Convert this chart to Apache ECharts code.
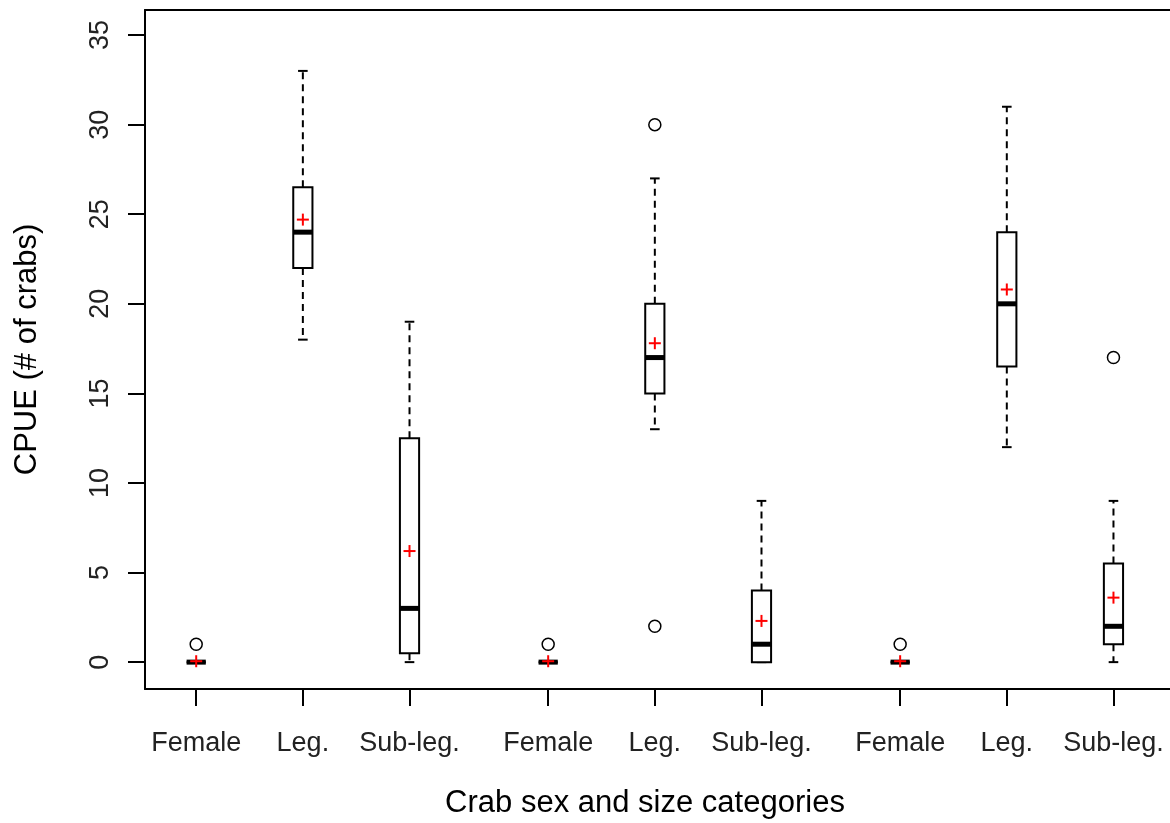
<!DOCTYPE html>
<html>
<head>
<meta charset="utf-8">
<script src="https://cdn.jsdelivr.net/npm/echarts@6/dist/echarts.min.js"></script>
<style>
  html, body { margin: 0; padding: 0; background: #fff; }
  #chart { width: 1170px; height: 823px; }
</style>
</head>
<body>
<div id="chart"></div>
<script>
// Box positions along the x axis (three groups of three boxes)
const categories = ['Female', 'Leg.', 'Sub-leg.', 'Female', 'Leg.', 'Sub-leg.', 'Female', 'Leg.', 'Sub-leg.'];
const positions = [1, 2, 3, 4.3, 5.3, 6.3, 7.6, 8.6, 9.6];

// Five-number summaries of CPUE per box
const lowerWhisker = [0, 18, 0, 0, 13, 0, 0, 12, 0];
const lowerQuartile = [0, 22, 0.5, 0, 15, 0, 0, 16.5, 1];
const medians = [0, 24, 3, 0, 17, 1, 0, 20, 2];
const upperQuartile = [0, 26.5, 12.5, 0, 20, 4, 0, 24, 5.5];
const upperWhisker = [0, 33, 19, 0, 27, 9, 0, 31, 9];

// Means shown as red crosses
const means = [0.05, 24.7, 6.2, 0.05, 17.8, 2.3, 0.05, 20.8, 3.6];

// Outliers: index of the box each belongs to, and its value
const outlierBox = [0, 3, 4, 4, 6, 8];
const outlierValue = [1, 1, 30, 2, 1, 17];

// Y axis tick values
const yTicks = [0, 5, 10, 15, 20, 25, 30, 35];

const boxData = positions.map((p, i) => [p, lowerWhisker[i], lowerQuartile[i], medians[i], upperQuartile[i], upperWhisker[i]]);
const meanData = positions.map((p, i) => [p, means[i]]);
const outlierData = outlierBox.map((b, i) => [positions[b], outlierValue[i]]);

const BOX_WIDTH = 0.18; // in x-axis units

function renderBox(params, api) {
  const x = api.value(0);
  const lo = api.coord([x, api.value(1)]);
  const q1 = api.coord([x, api.value(2)]);
  const md = api.coord([x, api.value(3)]);
  const q3 = api.coord([x, api.value(4)]);
  const hi = api.coord([x, api.value(5)]);
  const half = api.size([BOX_WIDTH, 0])[0] / 2;
  const cap = half / 2;
  const cx = md[0];
  const dashed = { stroke: '#000', lineWidth: 2, lineDash: [7, 5] };
  const solid = { stroke: '#000', lineWidth: 2 };
  return {
    type: 'group',
    children: [
      { type: 'line', shape: { x1: cx, y1: q3[1], x2: cx, y2: hi[1] }, style: dashed },
      { type: 'line', shape: { x1: cx, y1: q1[1], x2: cx, y2: lo[1] }, style: dashed },
      { type: 'line', shape: { x1: cx - cap, y1: hi[1], x2: cx + cap, y2: hi[1] }, style: solid },
      { type: 'line', shape: { x1: cx - cap, y1: lo[1], x2: cx + cap, y2: lo[1] }, style: solid },
      { type: 'rect', shape: { x: cx - half, y: q3[1], width: half * 2, height: q1[1] - q3[1] },
        style: { fill: '#fff', stroke: '#000', lineWidth: 2 } },
      { type: 'line', shape: { x1: cx - half, y1: md[1], x2: cx + half, y2: md[1] },
        style: { stroke: '#000', lineWidth: 5 } }
    ]
  };
}

function renderMean(params, api) {
  const c = api.coord([api.value(0), api.value(1)]);
  const s = 6;
  const st = { stroke: '#ff0000', lineWidth: 2 };
  return {
    type: 'group',
    children: [
      { type: 'line', shape: { x1: c[0] - s, y1: c[1], x2: c[0] + s, y2: c[1] }, style: st },
      { type: 'line', shape: { x1: c[0], y1: c[1] - s, x2: c[0], y2: c[1] + s }, style: st }
    ]
  };
}

const chart = echarts.init(document.getElementById('chart'), null, { renderer: 'canvas' });

const X_MIN = 0.52;
const X_MAX = 10.13;

chart.setOption({
  animation: false,
  backgroundColor: '#fff',
  title: {
    text: 'Crab sex and size categories',
    left: 640,
    textAlign: 'center',
    top: 783,
    textStyle: { fontFamily: 'Liberation Sans', fontSize: 31, fontWeight: 'normal', color: '#000' }
  },
  grid: { left: 145, top: 10, right: 0, bottom: 134, show: false },
  xAxis: [
    {
      type: 'value',
      position: 'bottom',
      min: X_MIN, max: X_MAX,
      splitLine: { show: false },
      axisLine: { show: true, onZero: false, lineStyle: { color: '#000', width: 2 } },
      axisTick: { show: true, length: 17, customValues: positions, lineStyle: { color: '#000', width: 2 } },
      axisLabel: {
        customValues: positions,
        margin: 41,
        fontFamily: 'Liberation Sans', fontSize: 27, color: '#222',
        formatter: v => {
          const i = positions.findIndex(p => Math.abs(p - v) < 1e-6);
          return i >= 0 ? categories[i] : '';
        }
      }
    },
    {
      // top frame line of the plot region
      type: 'value',
      position: 'top',
      min: X_MIN, max: X_MAX,
      splitLine: { show: false },
      axisLine: { show: true, onZero: false, lineStyle: { color: '#000', width: 2 } },
      axisTick: { show: false },
      axisLabel: { show: false }
    }
  ],
  yAxis: {
    type: 'value',
    min: -1.5, max: 36.4,
    name: 'CPUE (# of crabs)',
    nameLocation: 'middle',
    nameRotate: 90,
    nameGap: 102,
    nameTextStyle: { fontFamily: 'Liberation Sans', fontSize: 31, color: '#000' },
    splitLine: { show: false },
    axisLine: { show: true, onZero: false, lineStyle: { color: '#000', width: 2 } },
    axisTick: { show: true, length: 17, customValues: yTicks, lineStyle: { color: '#000', width: 2 } },
    axisLabel: {
      customValues: yTicks,
      rotate: 90,
      margin: 31,
      fontFamily: 'Liberation Sans', fontSize: 27, color: '#222'
    }
  },
  series: [
    {
      type: 'custom',
      renderItem: renderBox,
      data: boxData,
      encode: { x: 0, y: [1, 2, 3, 4, 5] },
      z: 2
    },
    {
      type: 'scatter',
      data: outlierData,
      symbol: 'circle',
      symbolSize: 12,
      itemStyle: { color: '#fff', borderColor: '#000', borderWidth: 1.5, opacity: 1 },
      z: 3
    },
    {
      type: 'custom',
      renderItem: renderMean,
      data: meanData,
      encode: { x: 0, y: 1 },
      z: 4
    }
  ]
});
</script>
</body>
</html>
